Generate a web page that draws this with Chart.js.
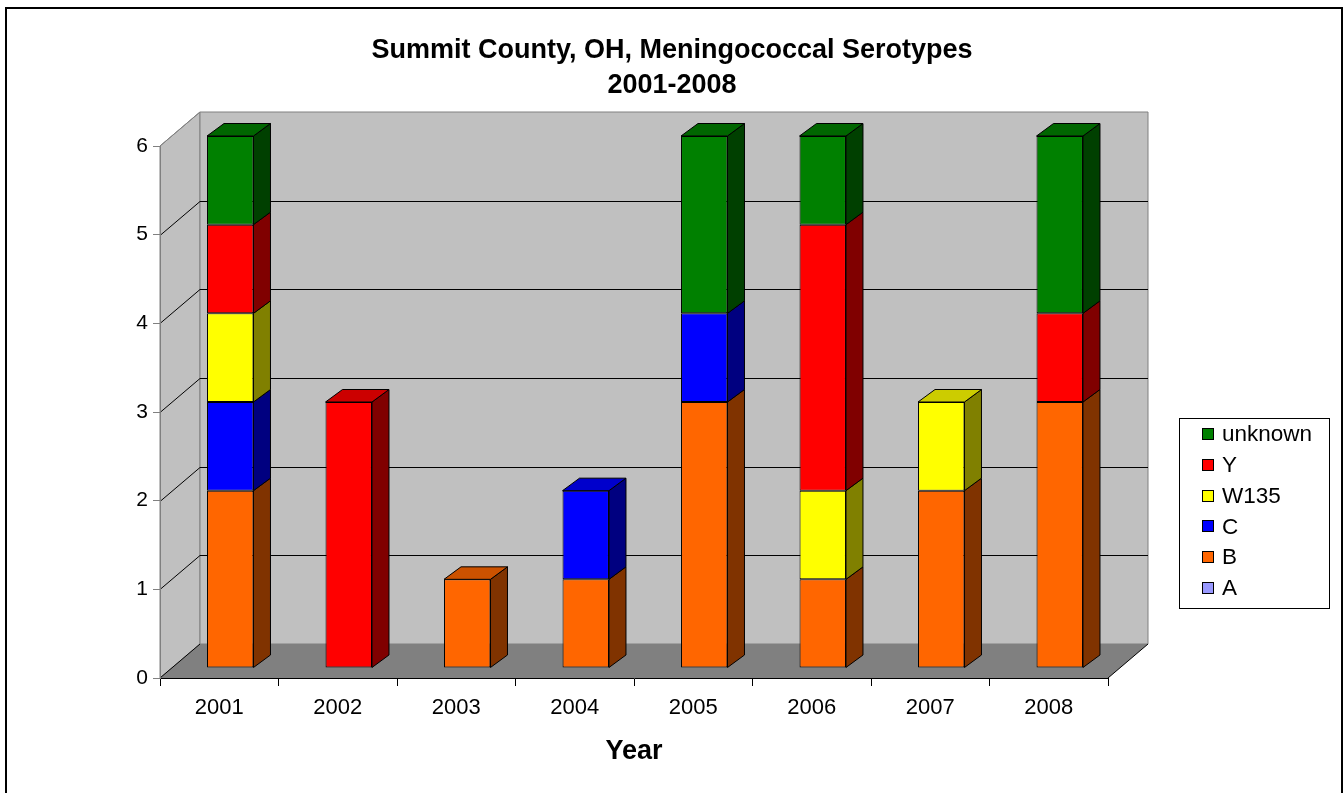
<!DOCTYPE html>
<html><head><meta charset="utf-8">
<script src="https://cdn.jsdelivr.net/npm/chart.js@4.4.1/dist/chart.umd.min.js"></script>
<style>html,body{margin:0;padding:0;background:#fff;}#wrap{position:relative;width:1344px;height:793px;}</style>
</head><body><div id="wrap"><canvas id="c" width="1344" height="793"></canvas></div>
<script>
const categories = ['2001','2002','2003','2004','2005','2006','2007','2008'];
const seriesA       = [0,0,0,0,0,0,0,0];
const seriesB       = [2,0,1,1,3,1,2,3];
const seriesC       = [1,0,0,1,1,0,0,0];
const seriesW135    = [1,0,0,0,0,1,1,0];
const seriesY       = [1,3,0,0,0,3,0,1];
const seriesUnknown = [1,0,0,0,2,1,0,2];
const yTicks = [0,1,2,3,4,5,6];
const seriesNames = ['A','B','C','W135','Y','unknown'];

const frontColors = ['#9999FF','#FF6600','#0000FF','#FFFF00','#FF0000','#008000'];
const topColors   = ['#7A7ACC','#CC5200','#0000CC','#CCCC00','#CC0000','#006600'];
const sideColors  = ['#4C4C80','#803300','#000080','#808000','#800000','#004000'];

const WALL = {x:40, y:-34};
const BAR_OFF = {x:11, y:-10};
const BAR_D = {x:17, y:-12.5};

Chart.defaults.font.family = 'Arial, "Liberation Sans", sans-serif';
Chart.defaults.color = '#000';

function poly(ctx, pts, fill, stroke){
  ctx.beginPath();
  ctx.moveTo(pts[0][0], pts[0][1]);
  for (let i=1;i<pts.length;i++) ctx.lineTo(pts[i][0], pts[i][1]);
  ctx.closePath();
  if (fill){ ctx.fillStyle = fill; ctx.fill(); }
  if (stroke){ ctx.strokeStyle = stroke; ctx.lineWidth = 1; ctx.stroke(); }
}
function line(ctx, x1,y1,x2,y2,color){
  ctx.beginPath(); ctx.moveTo(x1,y1); ctx.lineTo(x2,y2);
  ctx.strokeStyle=color; ctx.lineWidth=1; ctx.stroke();
}

const threeD = {
  id:'threeD',
  beforeDraw(chart){
    const ctx = chart.ctx, xs = chart.scales.x, ys = chart.scales.y;
    const L = xs.left, R = xs.right;
    const y0 = ys.getPixelForValue(yTicks[0]);
    const yT = ys.getPixelForValue(yTicks[yTicks.length-1]);
    const dx = WALL.x, dy = WALL.y;
    ctx.save();
    ctx.fillStyle = '#fff'; ctx.fillRect(0,0,chart.width,chart.height);
    ctx.strokeStyle = '#000'; ctx.lineWidth = 2;
    ctx.strokeRect(6, 8, 1336, 800);
    poly(ctx, [[L,y0],[L,yT],[L+dx,yT+dy],[L+dx,y0+dy]], '#C0C0C0', '#808080');
    poly(ctx, [[L+dx,yT+dy],[R+dx,yT+dy],[R+dx,y0+dy],[L+dx,y0+dy]], '#C0C0C0', '#808080');
    poly(ctx, [[L,y0],[R,y0],[R+dx,y0+dy],[L+dx,y0+dy]], '#808080', null);
    line(ctx, L, y0, L+dx, y0+dy, '#000');
    line(ctx, R, y0, R+dx, y0+dy, '#000');
    for (let i=1;i<yTicks.length-1;i++){
      const yv = Math.round(ys.getPixelForValue(yTicks[i])) + 0.5;
      line(ctx, L+dx, yv+dy, R+dx, yv+dy, '#000');
      line(ctx, L, yv, L+dx, yv+dy, '#000');
    }
    line(ctx, L, yT, L+dx, yT+dy, '#808080');
    ctx.restore();
  },
  beforeDatasetsDraw(chart){
    chart.ctx.save();
    chart.ctx.translate(BAR_OFF.x, BAR_OFF.y);
  },
  afterDatasetsDraw(chart){
    const ctx = chart.ctx;
    const n = chart.data.labels.length;
    const topIdx = new Array(n).fill(-1);
    chart.data.datasets.forEach((ds, d) => {
      const meta = chart.getDatasetMeta(d);
      meta.data.forEach((el, i) => {
        const v = ds.data[i];
        if (!v) return;
        topIdx[i] = d;
        const x1 = el.x + el.width/2, yt = el.y, yb = el.base;
        poly(ctx, [[x1,yb],[x1,yt],[x1+BAR_D.x,yt+BAR_D.y],[x1+BAR_D.x,yb+BAR_D.y]], sideColors[d], '#000');
      });
    });
    for (let i=0;i<n;i++){
      const d = topIdx[i];
      if (d < 0) continue;
      const el = chart.getDatasetMeta(d).data[i];
      const x0 = el.x - el.width/2, x1 = el.x + el.width/2, yt = el.y;
      poly(ctx, [[x0,yt],[x1,yt],[x1+BAR_D.x,yt+BAR_D.y],[x0+BAR_D.x,yt+BAR_D.y]], topColors[d], '#000');
    }
    ctx.restore();
  },
  afterDraw(chart){
    const ctx = chart.ctx;
    ctx.save();
    const bx = 1179.5, by = 418.5, bw = 150, bh = 190;
    ctx.fillStyle = '#fff'; ctx.fillRect(bx, by, bw, bh);
    ctx.strokeStyle = '#000'; ctx.lineWidth = 1; ctx.strokeRect(bx, by, bw, bh);
    ctx.font = '22.5px Arial, "Liberation Sans", sans-serif';
    ctx.textBaseline = 'middle'; ctx.textAlign = 'left';
    const ds = chart.data.datasets;
    for (let k=0;k<ds.length;k++){
      const d = ds.length-1-k;
      const cy = 434 + k*30.8;
      ctx.fillStyle = frontColors[d];
      ctx.fillRect(1202.5, Math.round(cy)-5.5, 11, 11);
      ctx.strokeStyle = '#000';
      ctx.strokeRect(1202.5, Math.round(cy)-5.5, 11, 11);
      ctx.fillStyle = '#000';
      ctx.fillText(ds[d].label, 1222, cy+1);
    }
    ctx.restore();
  }
};

const seriesData = [seriesA, seriesB, seriesC, seriesW135, seriesY, seriesUnknown];

new Chart(document.getElementById('c'), {
  type:'bar',
  data:{
    labels: categories,
    datasets: seriesData.map((arr, d) => ({
      label: seriesNames[d],
      data: arr,
      backgroundColor: frontColors[d],
      borderColor: '#000',
      borderWidth: 1,
      borderSkipped: false,
      barPercentage: 0.392,
      categoryPercentage: 1,
      clip: false
    }))
  },
  options:{
    responsive:false,
    animation:false,
    devicePixelRatio:1,
    layout:{padding:{left:0,right:0,top:0,bottom:0}},
    plugins:{
      legend:{display:false},
      tooltip:{enabled:false},
      title:{
        display:true,
        text:['Summit County, OH, Meningococcal Serotypes','2001-2008'],
        font:{size:27, weight:'bold', lineHeight:35/27},
        color:'#000',
        padding:{top:33, bottom:43}
      }
    },
    scales:{
      x:{
        stacked:true,
        offset:true,
        grid:{display:true, drawOnChartArea:false, offset:true, tickLength:8, color:'#000'},
        border:{display:true, color:'#000'},
        ticks:{font:{size:22}, color:'#000', padding:9},
        title:{display:true, text:'Year', font:{size:27, weight:'bold'}, color:'#000', padding:{top:0,bottom:25}},
        afterFit(s){ s.height = 115; }
      },
      y:{
        stacked:true,
        min:yTicks[0], max:yTicks[yTicks.length-1],
        afterBuildTicks(s){ s.ticks = yTicks.map(v => ({value:v})); },
        ticks:{font:{size:21}, color:'#000', padding:5},
        grid:{display:true, drawOnChartArea:false, tickLength:7, color:'#808080'},
        border:{display:true, color:'#808080'},
        afterFit(s){ s.width = 160; }
      },
      yRight:{
        type:'linear',
        position:'right',
        display:true,
        grid:{display:false},
        border:{display:false},
        ticks:{display:false},
        afterFit(s){ s.width = 236; }
      }
    }
  },
  plugins:[threeD]
});
</script>
</body></html>
